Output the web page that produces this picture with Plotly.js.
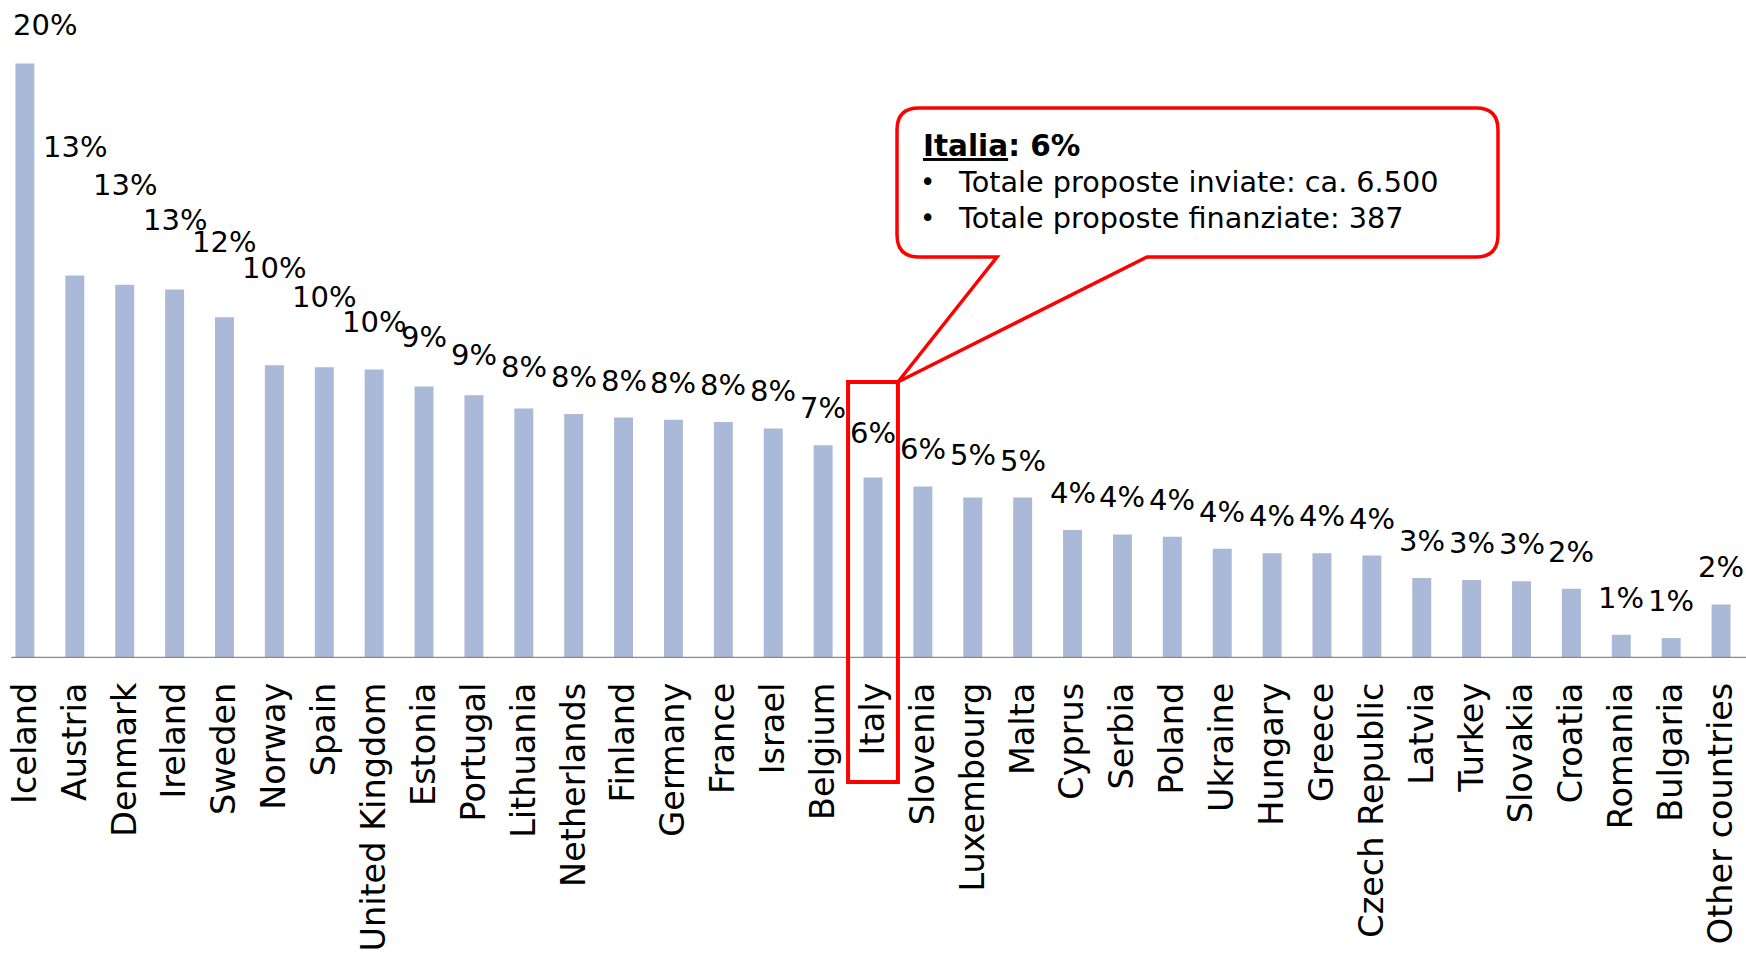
<!DOCTYPE html>
<html>
<head>
<meta charset="utf-8">
<script src="https://cdn.plot.ly/plotly-3.0.1.min.js"></script>
<style>html,body{margin:0;padding:0;background:#fff;}#chart{width:1746px;height:955px;}</style>
</head>
<body>
<div id="chart"></div>
<script>
// ---- data ----
const countries = ["Iceland","Austria","Denmark","Ireland","Sweden","Norway","Spain","United Kingdom","Estonia","Portugal","Lithuania","Netherlands","Finland","Germany","France","Israel","Belgium","Italy","Slovenia","Luxembourg","Malta","Cyprus","Serbia","Poland","Ukraine","Hungary","Greece","Czech Republic","Latvia","Turkey","Slovakia","Croatia","Romania","Bulgaria","Other countries"];
const successRate = [20.2,13.0,12.68,12.52,11.58,9.95,9.88,9.8,9.23,8.93,8.48,8.29,8.17,8.1,8.02,7.8,7.23,6.13,5.83,5.45,5.45,4.35,4.2,4.12,3.71,3.56,3.56,3.48,2.72,2.65,2.61,2.35,0.79,0.68,1.82];
const rateLabels = ["20%","13%","13%","13%","12%","10%","10%","10%","9%","9%","8%","8%","8%","8%","8%","8%","7%","6%","6%","5%","5%","4%","4%","4%","4%","4%","4%","4%","3%","3%","3%","2%","1%","1%","2%"];
const highlight = "Italy";
const calloutTitle = "<b><u>Italia</u>: 6%</b>";
const calloutLines = ["Totale proposte inviate: ca. 6.500","Totale proposte finanziate: 387"];

// ---- styling (label lifts in px, to avoid overlaps as in the original) ----
const labelLift = {"Iceland":2,"Austria":91,"Denmark":63,"Ireland":33,"Sweden":38,"Norway":60,"Spain":33,"United Kingdom":11,"Estonia":12,"Portugal":3,"Lithuania":4,"Italy":8,"Luxembourg":6};
const labelXShift = {"Iceland":20};

const W = 1746, H = 955, mt = 10, mb = 297;
const plotH = H - mt - mb;
const FONT = "DejaVu Sans, Verdana, sans-serif";

const trace = {
  type: "bar",
  x: countries,
  y: successRate,
  marker: {color: "#aab9d7"},
  hoverinfo: "x+y"
};

const annotations = countries.map((c, i) => ({
  x: c, y: successRate[i], xref: "x", yref: "y",
  text: rateLabels[i], showarrow: false,
  xanchor: "center", yanchor: "middle",
  yshift: 37 + (labelLift[c] || 0), xshift: (labelXShift[c] || 0),
  font: {family: FONT, size: 29, color: "#000"}
}));

// pixel -> paper helpers
const px = v => v / W;
const py = v => (H - mb - v) / plotH;

// callout text
annotations.push({xref:"paper", yref:"paper", x: px(921), y: py(146), xanchor:"left", yanchor:"middle",
  text: calloutTitle, showarrow:false, font:{family:FONT, size:29.5, color:"#000"}});
calloutLines.forEach((t, k) => {
  const yy = py(182 + 35.5*k);
  annotations.push({xref:"paper", yref:"paper", x: px(918), y: yy, xanchor:"left", yanchor:"middle",
    text:"•", showarrow:false, font:{family:FONT, size:26, color:"#000"}});
  annotations.push({xref:"paper", yref:"paper", x: px(956), y: yy, xanchor:"left", yanchor:"middle",
    text:t, showarrow:false, font:{family:FONT, size:28.7, color:"#000"}});
});

// callout path (rounded box with tail to highlighted bar box)
const hi = countries.indexOf(highlight);
const bx0 = 897, bx1 = 1498, by0 = 108, by1 = 257, r = 22;
const tipX = 24.94 + (hi + 0.5) * (W / countries.length);
const tipY = 382;
const P = (x, y) => px(x).toFixed(5) + "," + py(y).toFixed(5);
const path = "M" + P(bx0 + r, by0) + " L" + P(bx1 - r, by0) + " Q" + P(bx1, by0) + " " + P(bx1, by0 + r) +
  " L" + P(bx1, by1 - r) + " Q" + P(bx1, by1) + " " + P(bx1 - r, by1) +
  " L" + P(1147, by1) + " L" + P(tipX, tipY) + " L" + P(997, by1) +
  " L" + P(bx0 + r, by1) + " Q" + P(bx0, by1) + " " + P(bx0, by1 - r) +
  " L" + P(bx0, by0 + r) + " Q" + P(bx0, by0) + " " + P(bx0 + r, by0) + " Z";

const shapes = [
  // baseline axis
  {type:"line", xref:"paper", yref:"y", x0: 0.0065, x1: 1, y0: 0, y1: 0, line:{color:"#8a8a8a", width:2.5}, layer:"above"},
  // highlight box around Italy
  {type:"rect", xref:"x", yref:"paper", x0: hi - 0.5, x1: hi + 0.5, y0: py(782), y1: py(tipY), line:{color:"#ff0000", width:4}, fillcolor:"rgba(0,0,0,0)", layer:"above"},
  // callout
  {type:"path", xref:"paper", yref:"paper", path: path, line:{color:"#ff0000", width:3.5}, fillcolor:"#ffffff", layer:"above"}
];

const layout = {
  width: W, height: H,
  margin: {l: 0, r: 0, t: mt, b: mb, pad: 0},
  paper_bgcolor: "#fff", plot_bgcolor: "#fff",
  bargap: 0.62,
  showlegend: false,
  xaxis: {type:"category", range:[-0.5, countries.length - 0.5], tickangle:-90, showline:false, showgrid:false, zeroline:false,
          ticks:"", ticklabelstandoff: 17, tickfont:{family:FONT, size:33.5, color:"#000"}},
  yaxis: {range:[0, 22.02], visible:false, showgrid:false, zeroline:false},
  annotations: annotations,
  shapes: shapes
};

Plotly.newPlot("chart", [trace], layout, {displayModeBar:false, staticPlot:true});
</script>
</body>
</html>
